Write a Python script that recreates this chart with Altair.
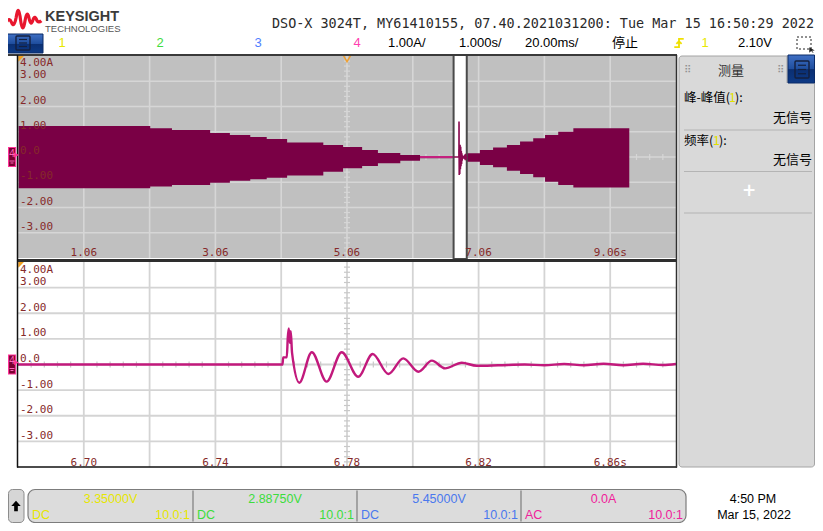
import altair as alt
import pandas as pd

# ---------------- values ----------------
main_time_domain = [0.06, 10.06]      # 1.000 s/div
zoom_time_domain = [6.68, 6.88]       # 20.00 ms/div
amp_domain = [-4.0, 4.0]              # 1.00 A/div

# envelope of the main (1 s/div) trace, before and after the zoom window
env_left_t = [0.07, 2.07, 2.40, 2.98, 3.28, 3.59, 3.84, 4.15, 4.70, 5.00, 5.29, 5.53, 5.87, 6.17, 6.68]
env_left_top = [1.23, 1.14, 1.07, 0.95, 0.87, 0.79, 0.71, 0.57, 0.48, 0.40, 0.28, 0.16, 0.08, 0.04, 0.04]
env_left_bot = [-1.24, -1.17, -1.11, -1.02, -0.94, -0.88, -0.82, -0.73, -0.58, -0.45, -0.36, -0.25, -0.15, -0.05, -0.05]

env_right_t = [6.88, 7.08, 7.28, 7.49, 7.69, 7.89, 8.07, 8.27, 8.50, 9.35]
env_right_top = [0.15, 0.28, 0.38, 0.48, 0.61, 0.74, 0.87, 1.00, 1.14, 1.14]
env_right_bot = [-0.19, -0.32, -0.41, -0.54, -0.67, -0.80, -0.98, -1.11, -1.21, -1.21]

center_t = [6.17, 6.68]
center_a = [0.0, 0.0]

# zoomed trace (20 ms/div)
wave_t = [6.680, 6.7604, 6.7606, 6.7617, 6.7620, 6.7623, 6.7626, 6.7629, 6.7633, 6.7655,
          6.7693, 6.7738, 6.7784, 6.7834, 6.7878, 6.7926, 6.7971, 6.8017, 6.8058, 6.8098,
          6.8149, 6.8194, 6.8260, 6.8340, 6.8400, 6.8460, 6.8520, 6.8580, 6.8640, 6.8700,
          6.8760, 6.8800]
wave_a = [0.00, 0.00, 0.28, 0.28, 1.05, 1.41, 0.85, 1.30, 0.45, -0.71,
          0.48, -0.67, 0.48, -0.48, 0.41, -0.37, 0.24, -0.28, 0.15, -0.15,
          0.07, -0.05, -0.03, 0.00, -0.03, 0.02, -0.03, 0.03, -0.03, 0.03,
          -0.02, 0.02]

main_tick_t = [1.06, 3.06, 5.06, 7.06, 9.06]
main_tick_lbl = ["1.06", "3.06", "5.06", "7.06", "9.06s"]
zoom_tick_t = [6.70, 6.74, 6.78, 6.82, 6.86]
zoom_tick_lbl = ["6.70", "6.74", "6.78", "6.82", "6.86s"]
amp_tick_a = [3, 2, 1, 0, -1, -2, -3]
amp_tick_lbl = ["3.00", "2.00", "1.00", "0.0", "-1.00", "-2.00", "-3.00"]
amp_top_a = [4]
amp_top_lbl = ["4.00A"]
main_grid_t = [1.06, 2.06, 3.06, 4.06, 5.06, 6.06, 7.06, 8.06, 9.06]
zoom_grid_t = [6.70, 6.72, 6.74, 6.76, 6.78, 6.80, 6.82, 6.84, 6.86]
amp_grid_a = [-3, -2, -1, 0, 1, 2, 3]
trigger_t = [5.06]

# ---------------- layout (page pixels) ----------------
O = 8
def P(v):
    return v - O

PX0, PX1 = 18, 676
UY0, UY1 = 56, 258
LY0, LY1 = 262, 467
RX = 814.5   # right edge of the drawable page

SANS = "Liberation Sans"
CJK = "Noto Sans CJK SC"
MONO = "DejaVu Sans Mono"
LBL = "#862a2a"

UX = alt.Scale(domain=main_time_domain, range=[P(PX0), P(PX1)], nice=False, zero=False)
LX = alt.Scale(domain=zoom_time_domain, range=[P(PX0), P(PX1)], nice=False, zero=False)
UY = alt.Scale(domain=amp_domain, range=[P(UY1), P(UY0)], nice=False, zero=False)
LY = alt.Scale(domain=amp_domain, range=[P(LY1), P(LY0)], nice=False, zero=False)

one = pd.DataFrame({"k": [0]})
L = []


def rect(x1, y1, x2, y2, **kw):
    return alt.Chart(one).mark_rect(**kw).encode(
        x=alt.value(P(x1)), x2=alt.value(P(x2)), y=alt.value(P(y1)), y2=alt.value(P(y2)))


def hline(x1, x2, y, color, w):
    return alt.Chart(one).mark_rule(color=color, strokeWidth=w).encode(
        x=alt.value(P(x1)), x2=alt.value(P(x2)), y=alt.value(P(y)))


def vline(x, y1, y2, color, w):
    return alt.Chart(one).mark_rule(color=color, strokeWidth=w).encode(
        x=alt.value(P(x)), y=alt.value(P(y1)), y2=alt.value(P(y2)))


def txt(x, y, s, size=13, color="#000000", font=SANS, align="left", baseline="middle", weight="normal"):
    return alt.Chart(one).mark_text(text=s, fontSize=size, color=color, font=font, align=align,
                                    baseline=baseline, fontWeight=weight).encode(
        x=alt.value(P(x)), y=alt.value(P(y)))


def sym(x, y, shape, size, **kw):
    return alt.Chart(one).mark_point(shape=shape, size=size, **kw).encode(
        x=alt.value(P(x)), y=alt.value(P(y)))


def blue_grad():
    return alt.Gradient(gradient="linear", x1=0, x2=0, y1=0, y2=1, stops=[
        alt.GradientStop(color="#3f6fc4", offset=0),
        alt.GradientStop(color="#1f4e9e", offset=0.5),
        alt.GradientStop(color="#0b2f72", offset=0.52),
        alt.GradientStop(color="#0d3a86", offset=1)])


def menu_icon(x1, y1, x2, y2):
    out = [rect(x1, y1, x2, y2, fillOpacity=0, stroke="#14203f", strokeWidth=1.4, cornerRadius=1)]
    h = (y2 - y1) / 4.0
    for i in range(1, 4):
        out.append(hline(x1 + 3, x2 - 3, y1 + i * h, "#14203f", 1.2))
    return out


# ---------------- header ----------------
logo_path = ("M-1,0.15 Q-0.85,-0.1 -0.72,0.2 Q-0.58,0.55 -0.45,-0.1 Q-0.32,-0.95 -0.2,0.05 "
             "Q-0.08,0.95 0.06,0.1 Q0.18,-0.6 0.3,0.0 Q0.4,0.45 0.52,0.05 Q0.62,-0.25 0.74,0.08 "
             "Q0.84,0.25 1,0.1")
L.append(sym(24, 19, logo_path, 1200, filled=False, stroke="#e8162e", strokeWidth=3.2, opacity=1))
L.append(txt(45, 16.5, "KEYSIGHT", size=14.5, color="#3b3b3b", weight="bold"))
L.append(txt(45, 28.5, "TECHNOLOGIES", size=9.5, color="#555555"))
L.append(txt(RX - 0.5, 28, "DSO-X 3024T, MY61410155, 07.40.2021031200: Tue Mar 15 16:50:29 2022",
             size=13.45, color="#2a2a2a", font=MONO, align="right", baseline="alphabetic"))

L.append(rect(3, 34, 43, 53, fill=blue_grad(), stroke="#0a2a66", strokeWidth=1))
L.extend(menu_icon(16, 36, 30, 50))
L.append(txt(62, 43, "1", color="#e8e800", align="center"))
L.append(txt(160, 43, "2", color="#3fdc3f", align="center"))
L.append(txt(258, 43, "3", color="#4f80ff", align="center"))
L.append(txt(357, 43, "4", color="#ff3fb0", align="center"))
L.append(txt(388, 43, "1.00A/"))
L.append(txt(459, 43, "1.000s/"))
L.append(txt(525, 43, "20.00ms/"))
L.append(txt(612, 43, "停止", font=CJK))
trig_path = "M-0.9,0.8 L0,0.8 L0,-0.8 L0.9,-0.8 M-0.5,0.15 L0,-0.35 L0.5,0.15"
L.append(sym(679, 43, trig_path, 110, filled=False, stroke="#f0e000", strokeWidth=1.8, opacity=1))
L.append(txt(705, 43, "1", color="#e8e800", align="center"))
L.append(txt(738, 43, "2.10V"))
L.append(rect(797, 37, 811, 49, fillOpacity=0, stroke="#222222", strokeWidth=1, strokeDash=[2, 2]))
L.append(sym(812, 50, "M-1,-1 L1,0.2 L0,0.3 L0.6,1 L0.3,1 L-0.3,0.4 L-1,1 Z", 30, filled=True,
             color="#222222", opacity=1))

# ---------------- panels background & grid ----------------
L.append(rect(PX0, UY0, PX1, UY1, fill="#c0c0c0"))
L.append(rect(PX0, LY0, PX1, LY1, fill="#ffffff"))

grid_u = "#d6d6d6"
grid_l = "#d4d4d4"
L.append(alt.Chart(pd.DataFrame({"t": main_grid_t})).mark_rule(color=grid_u, strokeWidth=1.6).encode(
    x=alt.X("t:Q", scale=UX, axis=None), y=alt.value(P(UY0)), y2=alt.value(P(UY1))))
L.append(alt.Chart(pd.DataFrame({"a": amp_grid_a})).mark_rule(color=grid_u, strokeWidth=1.6).encode(
    y=alt.Y("a:Q", scale=UY, axis=None), x=alt.value(P(PX0)), x2=alt.value(P(PX1))))
L.append(alt.Chart(pd.DataFrame({"t": zoom_grid_t})).mark_rule(color=grid_l, strokeWidth=1.8).encode(
    x=alt.X("t:Q", scale=LX, axis=None), y=alt.value(P(LY0)), y2=alt.value(P(LY1))))
L.append(alt.Chart(pd.DataFrame({"a": amp_grid_a})).mark_rule(color=grid_l, strokeWidth=1.8).encode(
    y=alt.Y("a:Q", scale=LY, axis=None), x=alt.value(P(PX0)), x2=alt.value(P(PX1))))

# minor ticks on the centre lines (graticule: 5 sub-divisions per division)
u_minor_t = [main_time_domain[0] + 0.2 * i for i in range(1, 50) if i % 5]
l_minor_t = [zoom_time_domain[0] + 0.004 * i for i in range(1, 50) if i % 5]
minor_a = [amp_domain[0] + 0.2 * i for i in range(1, 40) if i % 5]
ucx = (PX0 + PX1) / 2.0
ucy = (UY0 + UY1) / 2.0
lcy = (LY0 + LY1) / 2.0
L.append(alt.Chart(pd.DataFrame({"t": u_minor_t})).mark_rule(color=grid_u, strokeWidth=1.2).encode(
    x=alt.X("t:Q", scale=UX, axis=None), y=alt.value(P(ucy - 3)), y2=alt.value(P(ucy + 3))))
L.append(alt.Chart(pd.DataFrame({"a": minor_a})).mark_rule(color=grid_u, strokeWidth=1.2).encode(
    y=alt.Y("a:Q", scale=UY, axis=None), x=alt.value(P(ucx - 3)), x2=alt.value(P(ucx + 3))))
L.append(alt.Chart(pd.DataFrame({"t": l_minor_t})).mark_rule(color="#c8c8c8", strokeWidth=1.2).encode(
    x=alt.X("t:Q", scale=LX, axis=None), y=alt.value(P(lcy - 3)), y2=alt.value(P(lcy + 3))))
L.append(alt.Chart(pd.DataFrame({"a": minor_a})).mark_rule(color="#c8c8c8", strokeWidth=1.2).encode(
    y=alt.Y("a:Q", scale=LY, axis=None), x=alt.value(P(ucx - 3)), x2=alt.value(P(ucx + 3))))

# ---------------- upper trace ----------------
BAND = "#7a0045"
df_left = pd.DataFrame({"t": env_left_t, "top": env_left_top, "bot": env_left_bot})
df_right = pd.DataFrame({"t": env_right_t, "top": env_right_top, "bot": env_right_bot})
for d in (df_left, df_right):
    L.append(alt.Chart(d).mark_area(interpolate="step-after", color=BAND, opacity=1).encode(
        x=alt.X("t:Q", scale=UX, axis=None),
        y=alt.Y("top:Q", scale=UY, axis=None),
        y2="bot:Q"))
L.append(alt.Chart(pd.DataFrame({"t": center_t, "a": center_a})).mark_line(
    color="#c4207e", strokeWidth=2).encode(
    x=alt.X("t:Q", scale=UX, axis=None), y=alt.Y("a:Q", scale=UY, axis=None)))

# zoom window inside the main view
L.append(alt.Chart(pd.DataFrame({"t0": [zoom_time_domain[0]], "t1": [zoom_time_domain[1]]})).mark_rect(
    fill="#ffffff", stroke="#4a4a4a", strokeWidth=2).encode(
    x=alt.X("t0:Q", scale=UX, axis=None), x2="t1:Q",
    y=alt.value(P(UY0 - 1)), y2=alt.value(P(UY1 + 1))))

df_wave = pd.DataFrame({"t": wave_t, "a": wave_a})
L.append(alt.Chart(df_wave).mark_line(color="#8a0a50", strokeWidth=1.6).encode(
    x=alt.X("t:Q", scale=UX, axis=None), y=alt.Y("a:Q", scale=UY, axis=None)))

# ---------------- lower trace ----------------
L.append(alt.Chart(df_wave).mark_line(color="#c2197c", strokeWidth=2.4, interpolate="monotone").encode(
    x=alt.X("t:Q", scale=LX, axis=None), y=alt.Y("a:Q", scale=LY, axis=None)))

# ---------------- graticule labels ----------------
def xlabels(ts, lbls, scale, ybase):
    return alt.Chart(pd.DataFrame({"t": ts, "l": lbls})).mark_text(
        font=MONO, fontSize=11, color=LBL, align="center", baseline="alphabetic").encode(
        x=alt.X("t:Q", scale=scale, axis=None), y=alt.value(P(ybase)), text="l:N")


def ylabels(a, lbls, scale, dy):
    return alt.Chart(pd.DataFrame({"a": a, "l": lbls})).mark_text(
        font=MONO, fontSize=11, color=LBL, align="left", baseline="alphabetic", dy=dy).encode(
        y=alt.Y("a:Q", scale=scale, axis=None), x=alt.value(P(20)), text="l:N")


L.append(xlabels(main_tick_t, main_tick_lbl, UX, 256))
L.append(xlabels(zoom_tick_t, zoom_tick_lbl, LX, 465.5))
L.append(ylabels(amp_tick_a, amp_tick_lbl, UY, -3))
L.append(ylabels(amp_top_a, amp_top_lbl, UY, 10))
L.append(ylabels(amp_tick_a, amp_tick_lbl, LY, -2.5))
L.append(ylabels(amp_top_a, amp_top_lbl, LY, 11))

# trigger marker
L.append(alt.Chart(pd.DataFrame({"t": trigger_t})).mark_point(
    shape="triangle-down", size=55, filled=False, color="#f0a030", strokeWidth=1.5, opacity=1).encode(
    x=alt.X("t:Q", scale=UX, axis=None), y=alt.value(P(58.5))))
corner = "M-1,-1 L1,-1 L-1,1 Z"
L.append(sym(21.5, 58.5, corner, 40, filled=True, color="#f0a020", opacity=1))
L.append(sym(21.5, 264.5, corner, 40, filled=True, color="#f0a020", opacity=1))

# panel frames
L.append(hline(0, 677, 55, "#3a3a3a", 2))
L.append(hline(17, 677, 260.5, "#2e2e2e", 3))
L.append(hline(17, 677, 467, "#111111", 1.5))
L.append(vline(17.5, 55, 467.5, "#111111", 1.5))
L.append(vline(676.5, 55, 467.5, "#303030", 1.5))

# channel-4 ground markers
for cy in (ucy, lcy):
    L.append(rect(8.5, cy - 9.5, 15.5, cy + 9.5, fill="#7a0030", stroke="#ff3399", strokeWidth=1.2))
    L.append(sym(16.5, cy - 2, "M-1,-1 L1,0 L-1,1 Z", 24, filled=True, color="#ff3399", opacity=1))
    L.append(txt(12, cy - 3.5, "4", size=10, color="#ff66bb", align="center"))
    L.append(hline(9.5, 14.5, cy + 4, "#ff66bb", 1))
    L.append(hline(10.5, 13.5, cy + 6, "#ff66bb", 1))

# ---------------- right measurement panel ----------------
L.append(rect(679, 56, RX, 467, fill="#d9d9d9", stroke="#a4a4a4", strokeWidth=1, cornerRadius=3))
L.append(vline(787, 56, 83, "#a4a4a4", 1))
L.append(rect(788, 55, RX, 83, fill=blue_grad(), stroke="#0a2a66", strokeWidth=1))
L.extend(menu_icon(795, 61, 809, 78))
L.append(txt(684, 70, "⠿", size=10, color="#909090", font="DejaVu Sans"))
L.append(txt(777, 70, "⠿", size=10, color="#909090", font="DejaVu Sans"))
L.append(txt(731, 71, "测量", size=13, color="#333333", font=CJK, align="center"))
L.append(txt(684, 98, "峰-峰值(", size=12.5, font=CJK))
L.append(txt(729, 98, "1", size=12.5, font=CJK, color="#e0e000"))
L.append(txt(735, 98, "):", size=12.5, font=CJK))
L.append(txt(812, 118, "无信号", size=13, font=CJK, align="right"))
L.append(hline(684, 812, 130, "#b4b4b4", 1.2))
L.append(txt(684, 141, "频率(", size=12.5, font=CJK))
L.append(txt(713, 141, "1", size=12.5, font=CJK, color="#e0e000"))
L.append(txt(719, 141, "):", size=12.5, font=CJK))
L.append(txt(812, 160, "无信号", size=13, font=CJK, align="right"))
L.append(hline(684, 812, 171.5, "#b4b4b4", 1.2))
L.append(txt(749, 191, "+", size=17, color="#ffffff", font="DejaVu Sans", align="center", weight="bold"))
L.append(hline(684, 812, 213, "#b4b4b4", 1.2))

# ---------------- footer ----------------
FY0, FY1 = 489.5, 522.5
L.append(rect(8.5, FY0, 24, FY1, fill="#d6d6d6", stroke="#8c8c8c", strokeWidth=1, cornerRadius=4))
L.append(sym(16, 506, "M0,-1 L0.9,0 L0.35,0 L0.35,1 L-0.35,1 L-0.35,0 L-0.9,0 Z", 110,
             filled=True, color="#000000", opacity=1))
L.append(rect(28, FY0, 686, FY1, fill="#dcdcdc", stroke="#7c7c7c", strokeWidth=1.2, cornerRadius=7))
for xd in (193, 357, 521):
    L.append(vline(xd, FY0 + 1, FY1 - 1, "#7c7c7c", 1.2))
ch_cols = ["#e6e600", "#3ddc3d", "#4a78ee", "#f0209a"]
ch_vals = ["3.35000V", "2.88750V", "5.45000V", "0.0A"]
ch_cpl = ["DC", "DC", "DC", "AC"]
ch_left = [28, 193, 357, 521]
ch_right = [193, 357, 521, 686]
for i in range(4):
    x0 = ch_left[i]
    x1 = ch_right[i]
    L.append(txt((x0 + x1) / 2.0, 498.5, ch_vals[i], size=12.5, color=ch_cols[i], align="center"))
    L.append(txt(x0 + 4, 515, ch_cpl[i], size=12.5, color=ch_cols[i]))
    L.append(txt(x1 - 3, 515, "10.0:1", size=12.5, color=ch_cols[i], align="right"))
L.append(txt(753, 498.5, "4:50 PM", size=12.5, align="center"))
L.append(txt(754, 515, "Mar 15, 2022", size=12.5, align="center"))

chart = alt.layer(*L).resolve_scale(x="independent", y="independent").properties(
    width=807, height=515, padding=0, autosize=alt.AutoSizeParams(type="none"), background="#ffffff"
).configure_view(stroke=None)

chart.save("out.html", embed_options={"renderer": "svg", "actions": False})
